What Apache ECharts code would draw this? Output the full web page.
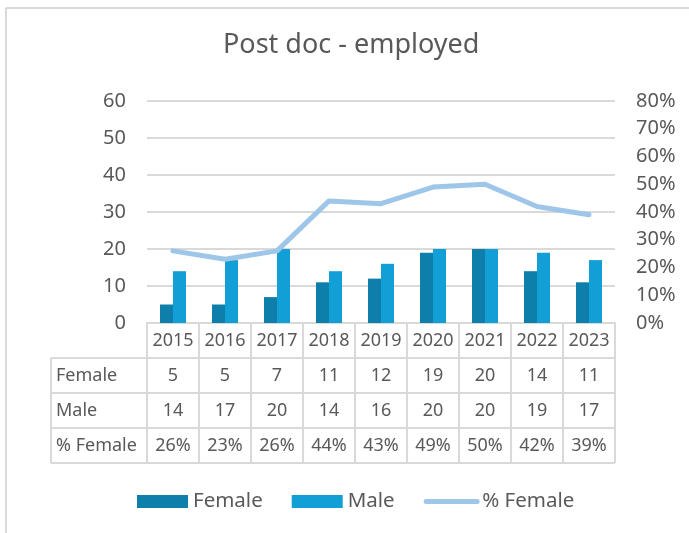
<!DOCTYPE html>
<html><head><meta charset="utf-8">
<script src="https://cdn.jsdelivr.net/npm/echarts@6/dist/echarts.min.js"></script>
<style>html,body{margin:0;padding:0;background:#fff}#c{width:689px;height:533px}</style>
</head><body><div id="c"></div>
<script>
const years = ['2015','2016','2017','2018','2019','2020','2021','2022','2023'];
const female = [5,5,7,11,12,19,20,14,11];
const male = [14,17,20,14,16,20,20,19,17];
const pctFemale = [26,23,26,44,43,49,50,42,39];
const leftTicks = [0,10,20,30,40,50,60];
const rightTicks = [0,10,20,30,40,50,60,70,80];

const FONT = 'Noto Sans';
const TXT = '#595959';
const LINE = '#d9d9d9';
const G = {left:147, right:74, top:101, bottom:210};

const chart = echarts.init(document.getElementById('c'));
const option = {
  animation:false,
  textStyle:{fontFamily:FONT},
  title:{text:'Post doc - employed', left:218, top:27,
    textStyle:{fontFamily:FONT, fontSize:27, fontWeight:'normal', color:TXT}},
  grid:{left:G.left, right:G.right, top:G.top, bottom:G.bottom, containLabel:false},
  legend:{left:132, top:486, itemWidth:51, itemHeight:13, itemGap:29, itemTextGap:7,
    textStyle:{fontFamily:FONT, fontSize:20.5, color:TXT},
    data:[{name:'Female', icon:'rect'},{name:'Male', icon:'rect'},
          {name:'% Female', lineStyle:{width:5, cap:'round'}, itemStyle:{opacity:0}}]},
  xAxis:{type:'category', data:years, axisLabel:{show:false}, axisTick:{show:false},
    axisLine:{show:true, lineStyle:{color:LINE, width:2}}},
  yAxis:[
    {type:'value', min:leftTicks[0], max:leftTicks[leftTicks.length-1], interval:10,
      axisLine:{show:false}, axisTick:{show:false},
      axisLabel:{margin:21, color:TXT, fontSize:20, fontFamily:FONT},
      splitLine:{lineStyle:{color:LINE, width:2}}},
    {type:'value', min:rightTicks[0], max:rightTicks[rightTicks.length-1], interval:10,
      position:'right', axisLine:{show:false}, axisTick:{show:false}, splitLine:{show:false},
      axisLabel:{margin:21, color:TXT, fontSize:20, fontFamily:FONT, formatter:'{value}%'}}
  ],
  series:[
    {name:'Female', type:'bar', data:female, barWidth:13, barGap:'0%', itemStyle:{color:'#0e7eab'}},
    {name:'Male', type:'bar', data:male, barWidth:13, itemStyle:{color:'#119fd6'}},
    {name:'% Female', type:'line', yAxisIndex:1, data:pctFemale, symbol:'none',
      lineStyle:{width:5, color:'#9dc6e8', cap:'round', join:'round'}, itemStyle:{color:'#9dc6e8'}}
  ]
};
chart.setOption(option);

// data table beneath the plot
const rowTop = chart.getHeight() - G.bottom;
const rowH = 35;
const labelLeft = 51;
const centers = years.map((y,i)=>chart.convertToPixel({xAxisIndex:0}, i));
const colW = centers.length>1 ? centers[1]-centers[0] : 52;
const gl = centers[0]-colW/2, gr = centers[centers.length-1]+colW/2;
const rows = [['Female', female.map(String)], ['Male', male.map(String)], ['% Female', pctFemale.map(v=>v+'%')]];
const els = [];
const ls = {stroke:LINE, lineWidth:2};
const tf = '18px "Noto Sans"';
els.push({type:'line', shape:{x1:gl,y1:rowTop,x2:gr,y2:rowTop}, style:ls});
for(let r=1;r<=rows.length+1;r++){
  const y = rowTop + r*rowH;
  els.push({type:'line', shape:{x1:labelLeft,y1:y,x2:gr,y2:y}, style:ls});
}
for(let i=0;i<=years.length;i++){
  const x = gl + i*colW;
  els.push({type:'line', shape:{x1:x,y1:rowTop,x2:x,y2:rowTop+(rows.length+1)*rowH}, style:ls});
}
els.push({type:'line', shape:{x1:labelLeft,y1:rowTop+rowH,x2:labelLeft,y2:rowTop+(rows.length+1)*rowH}, style:ls});
years.forEach((y,i)=>els.push({type:'text', x:centers[i], y:rowTop+rowH/2,
  style:{text:y, fill:TXT, font:tf, textAlign:'center', textVerticalAlign:'middle'}}));
rows.forEach((row,r)=>{
  const yc = rowTop + (r+1)*rowH + rowH/2;
  els.push({type:'text', x:labelLeft+5, y:yc, style:{text:row[0], fill:TXT, font:tf, textAlign:'left', textVerticalAlign:'middle'}});
  row[1].forEach((v,i)=>els.push({type:'text', x:centers[i], y:yc,
    style:{text:v, fill:TXT, font:tf, textAlign:'center', textVerticalAlign:'middle'}}));
});
els.push({type:'line', shape:{x1:6,y1:8,x2:689,y2:8}, style:ls});
els.push({type:'line', shape:{x1:6,y1:8,x2:6,y2:533}, style:ls});
chart.setOption({graphic:els});
</script></body></html>
